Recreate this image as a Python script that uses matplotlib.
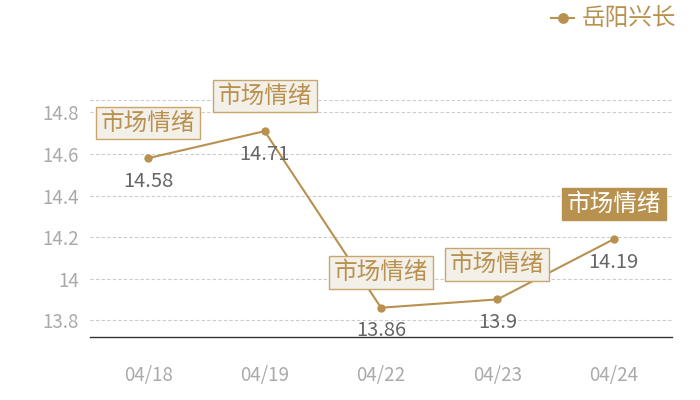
import matplotlib.pyplot as plt

plt.rcParams['font.family'] = ['Noto Sans CJK SC', 'DejaVu Sans']

# Daten
dates = ['04/18', '04/19', '04/22', '04/23', '04/24']
prices = [14.58, 14.71, 13.86, 13.9, 14.19]
series_name = '岳阳兴长'
mark_text = '市场情绪'
highlight = [False, False, False, False, True]
y_ticks = [13.8, 14.0, 14.2, 14.4, 14.6, 14.8]
y_tick_labels = ['13.8', '14', '14.2', '14.4', '14.6', '14.8']

gold = '#b8914f'

fig = plt.figure(figsize=(7, 4), dpi=100)
ax = fig.add_axes([0.1286, 0.158, 0.8314, 0.592])

x = list(range(len(dates)))
ax.plot(x, prices, color=gold, linewidth=1.5, marker='o', markersize=6,
        markeredgewidth=0, label=series_name, zorder=3)

ax.set_xlim(-0.5, len(dates) - 0.5)
ax.set_ylim(13.72, 14.86)
ax.set_yticks(y_ticks)
ax.set_yticklabels(y_tick_labels)
ax.set_xticks(x)
ax.set_xticklabels(dates)

ax.grid(axis='y', color='#cccccc', linestyle=(0, (3, 2)), linewidth=0.8)
ax.axhline(ax.get_ylim()[1], color='#cccccc', linestyle=(0, (3, 2)), linewidth=0.8)
for s in ['left', 'right', 'top']:
    ax.spines[s].set_visible(False)
ax.spines['bottom'].set_color('#333333')
ax.spines['bottom'].set_linewidth(1)
ax.tick_params(axis='y', length=0, labelsize=13.5, labelcolor='#aaaaaa', pad=8)
ax.tick_params(axis='x', length=0, labelsize=13.5, labelcolor='#aaaaaa', pad=20)

# Werte unter den Punkten
for xi, v in zip(x, prices):
    ax.annotate(f'{v:g}', xy=(xi, v), xytext=(0, -23), textcoords='offset pixels',
                ha='center', va='center', fontsize=14.5, color='#666666')

# Markierungen über den Punkten
for xi, v, hl in zip(x, prices, highlight):
    if hl:
        fc, tc, ec = gold, 'white', gold
    else:
        fc, tc, ec = '#f3efe9', gold, '#c9a66d'
    ax.annotate(mark_text, xy=(xi, v), xytext=(0, 35), textcoords='offset pixels',
                ha='center', va='center', fontsize=17, color=tc,
                bbox=dict(boxstyle='square,pad=0.2', fc=fc, ec=ec, lw=1), zorder=5)

# Legende
leg = fig.legend(loc='upper right', bbox_to_anchor=(0.986, 1.015), frameon=False,
                 fontsize=17, handlelength=1.0, handletextpad=0.3, markerscale=1.3,
                 labelcolor=gold, borderaxespad=0.2)

fig.savefig('out.png', dpi=100)
